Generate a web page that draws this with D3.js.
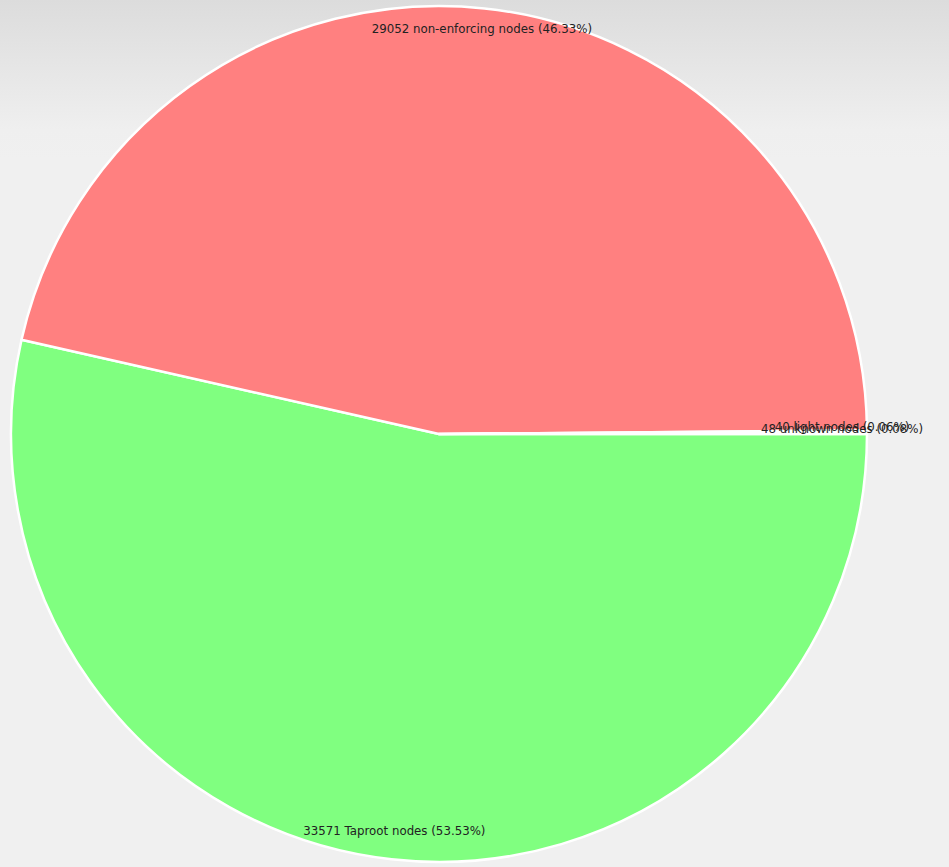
<!DOCTYPE html>
<html>
<head>
<meta charset="utf-8">
<script src="https://cdn.jsdelivr.net/npm/d3@7"></script>
<style>
  html, body {
    margin: 0;
    padding: 0;
    width: 949px;
    height: 867px;
    overflow: hidden;
    background-color: #f0f0f0;
    background-image: linear-gradient(#dcdcdc 0px, #efefef 130px, #f0f0f0 160px);
    background-repeat: no-repeat;
    background-size: 100% 160px;
  }
  .label {
    font-family: "DejaVu Sans", Verdana, sans-serif;
    font-size: 11.8px;
    fill: #222;
  }
</style>
</head>
<body>
<div class="chart"></div>
<script>
// node counts by type
let categories = ["Taproot", "non-enforcing", "light", "unknown"];
let counts = [33571, 29052, 40, 48];
let colors = ["#80ff80", "#ff8080", "#ff8080", "#80ff80"];

let width = 949,
  height = 867,
  cx = 439,
  cy = 434,
  radius = 428,
  labelRadius = 403;

let total = d3.sum(counts);

let data = categories.map((c, i) => ({ name: c, value: counts[i], color: colors[i] }));

let pie = d3
  .pie()
  .sort(null)
  .value((d) => d.value)
  .startAngle(Math.PI / 2)
  .endAngle(Math.PI / 2 + 2 * Math.PI);

let arc = d3.arc().innerRadius(0).outerRadius(radius);
let labelArc = d3.arc().innerRadius(labelRadius).outerRadius(labelRadius);

let svg = d3
  .select(".chart")
  .append("svg")
  .attr("width", width)
  .attr("height", height);

let g = svg.append("g").attr("transform", "translate(" + cx + "," + cy + ")");

let arcs = pie(data);

g.selectAll("path")
  .data(arcs)
  .enter()
  .append("path")
  .attr("d", arc)
  .attr("fill", (d) => d.data.color)
  .attr("stroke", "#fff")
  .attr("stroke-width", 2.5)
  .attr("stroke-linejoin", "round");

// labels sit just inside the rim, like the original (small ones overlap there too)
g.selectAll("text")
  .data(arcs)
  .enter()
  .append("text")
  .attr("class", "label")
  .attr("transform", (d) => {
    let c = labelArc.centroid(d);
    return "translate(" + c[0] + "," + (c[1] - 4) + ")";
  })
  .attr("text-anchor", "middle")
  .attr("dominant-baseline", "central")
  .text(
    (d) =>
      d.data.value +
      " " +
      d.data.name +
      " nodes (" +
      d3.format(".2f")((d.data.value / total) * 100) +
      "%)"
  );
</script>
</body>
</html>
